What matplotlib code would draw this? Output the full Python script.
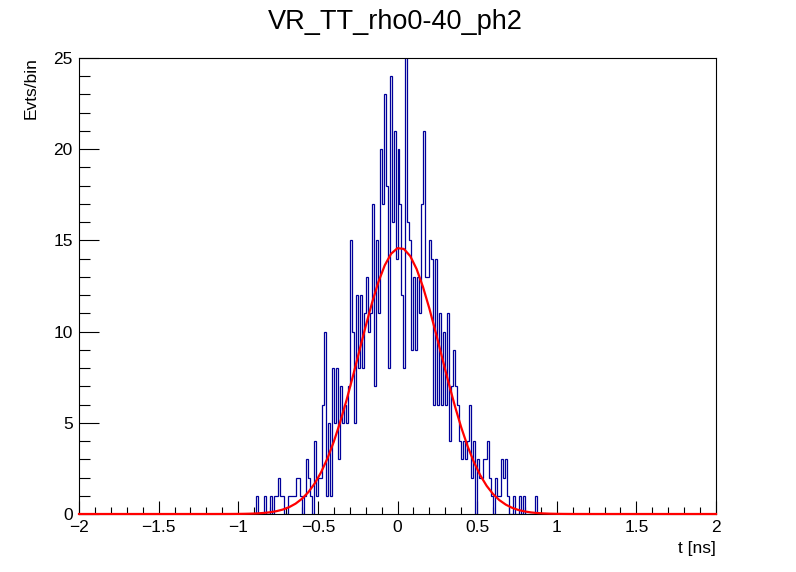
import numpy as np
import matplotlib
matplotlib.use("Agg")
import matplotlib.pyplot as plt
from matplotlib.ticker import MultipleLocator

# ---------------- data ----------------
title = "VR_TT_rho0-40_ph2"
x_label = "t [ns]"
y_label = "Evts/bin"

x_min, x_max, n_bins = -2.0, 2.0, 320
first_bin = 88  # index of the first bin listed in `counts`
counts = [
    0, 1, 0, 0, 0, 1, 0, 0, 1, 0,          # 88-97
    1, 1, 2, 1, 1, 0, 0, 1, 1, 1,          # 98-107
    1, 2, 2, 1, 0, 1, 3, 2, 1, 0,          # 108-117
    4, 1, 2, 2, 6, 10, 1, 5, 1, 8,         # 118-127
    5, 8, 3, 7, 5, 6, 5, 7, 15, 10,        # 128-137
    5, 12, 8, 12, 8, 11, 13, 10, 11, 17,   # 138-147
    7, 15, 11, 20, 17, 23, 18, 8, 24, 16,  # 148-157
    21, 14, 20, 17, 12, 8, 27, 16, 15, 9,  # 158-167
    13, 9, 13, 11, 17, 21, 13, 13, 15, 14, # 168-177
    6, 14, 6, 11, 6, 10, 6, 11, 4, 7,      # 178-187
    9, 7, 6, 4, 3, 4, 3, 4, 6, 2,          # 188-197
    4, 0, 3, 2, 2, 3, 3, 4, 2, 1,          # 198-207
    0, 2, 1, 1, 3, 2, 3, 1, 0, 0,          # 208-217
    1, 0, 0, 1, 0, 1, 0, 0, 0, 0,          # 218-227
    0, 1,                                  # 228-229
]

# Gaussian fit parameters
fit_amp, fit_mean, fit_sigma = 14.6, 0.015, 0.257
fit_npx = 100  # ROOT draws TF1 with 100 points

x_ticks_major = [-2, -1.5, -1, -0.5, 0, 0.5, 1, 1.5, 2]
x_tick_labels = ["\u22122", "\u22121.5", "\u22121", "\u22120.5", "0", "0.5", "1", "1.5", "2"]
y_ticks_major = [0, 5, 10, 15, 20, 25]

# ---------------- build ----------------
hist = np.zeros(n_bins)
hist[first_bin:first_bin + len(counts)] = counts
edges = np.linspace(x_min, x_max, n_bins + 1)

W, H = 796, 572
fig = plt.figure(figsize=(W / 100, H / 100), dpi=100)
plt.rcParams['font.family'] = ['Liberation Sans', 'DejaVu Sans']

ax = fig.add_axes([79 / W, 1 - 514 / H, (716 - 79) / W, (514 - 58) / H])
ax.set_xlim(x_min, x_max)
ax.set_ylim(0, 25)

ax.stairs(hist, edges, color="#00009a", linewidth=0.9, baseline=0, fill=False, zorder=2)

xf = np.linspace(x_min, x_max, fit_npx + 1)
yf = fit_amp * np.exp(-0.5 * ((xf - fit_mean) / fit_sigma) ** 2)
ax.plot(xf, yf, color="#ff0000", linewidth=1.6, zorder=3, clip_on=False)

for s in ax.spines.values():
    s.set_linewidth(0.8)
    s.set_color("black")

ax.set_xticks(x_ticks_major)
ax.set_xticklabels(x_tick_labels)
ax.xaxis.set_minor_locator(MultipleLocator(0.1))
ax.set_yticks(y_ticks_major)
ax.yaxis.set_minor_locator(MultipleLocator(1))

ax.tick_params(axis='x', which='major', direction='in', length=9.5, width=0.8,
               labelsize=12.5, pad=4, top=False)
ax.tick_params(axis='x', which='minor', direction='in', length=5, width=0.8, top=False)
ax.tick_params(axis='y', which='major', direction='in', length=14.5, width=0.8,
               labelsize=12.5, pad=4.5, right=False)
ax.tick_params(axis='y', which='minor', direction='in', length=8, width=0.8, right=False)

fig.text(0.497, 1 - 22 / H, title, ha='center', va='center', fontsize=19.5)
fig.text(716 / W, 1 - 548 / H, x_label, ha='right', va='center', fontsize=12.5)
fig.text(31 / W, 1 - 57 / H, y_label, ha='center', va='top', rotation=90, fontsize=12.5)

fig.savefig("out.png", dpi=100)
